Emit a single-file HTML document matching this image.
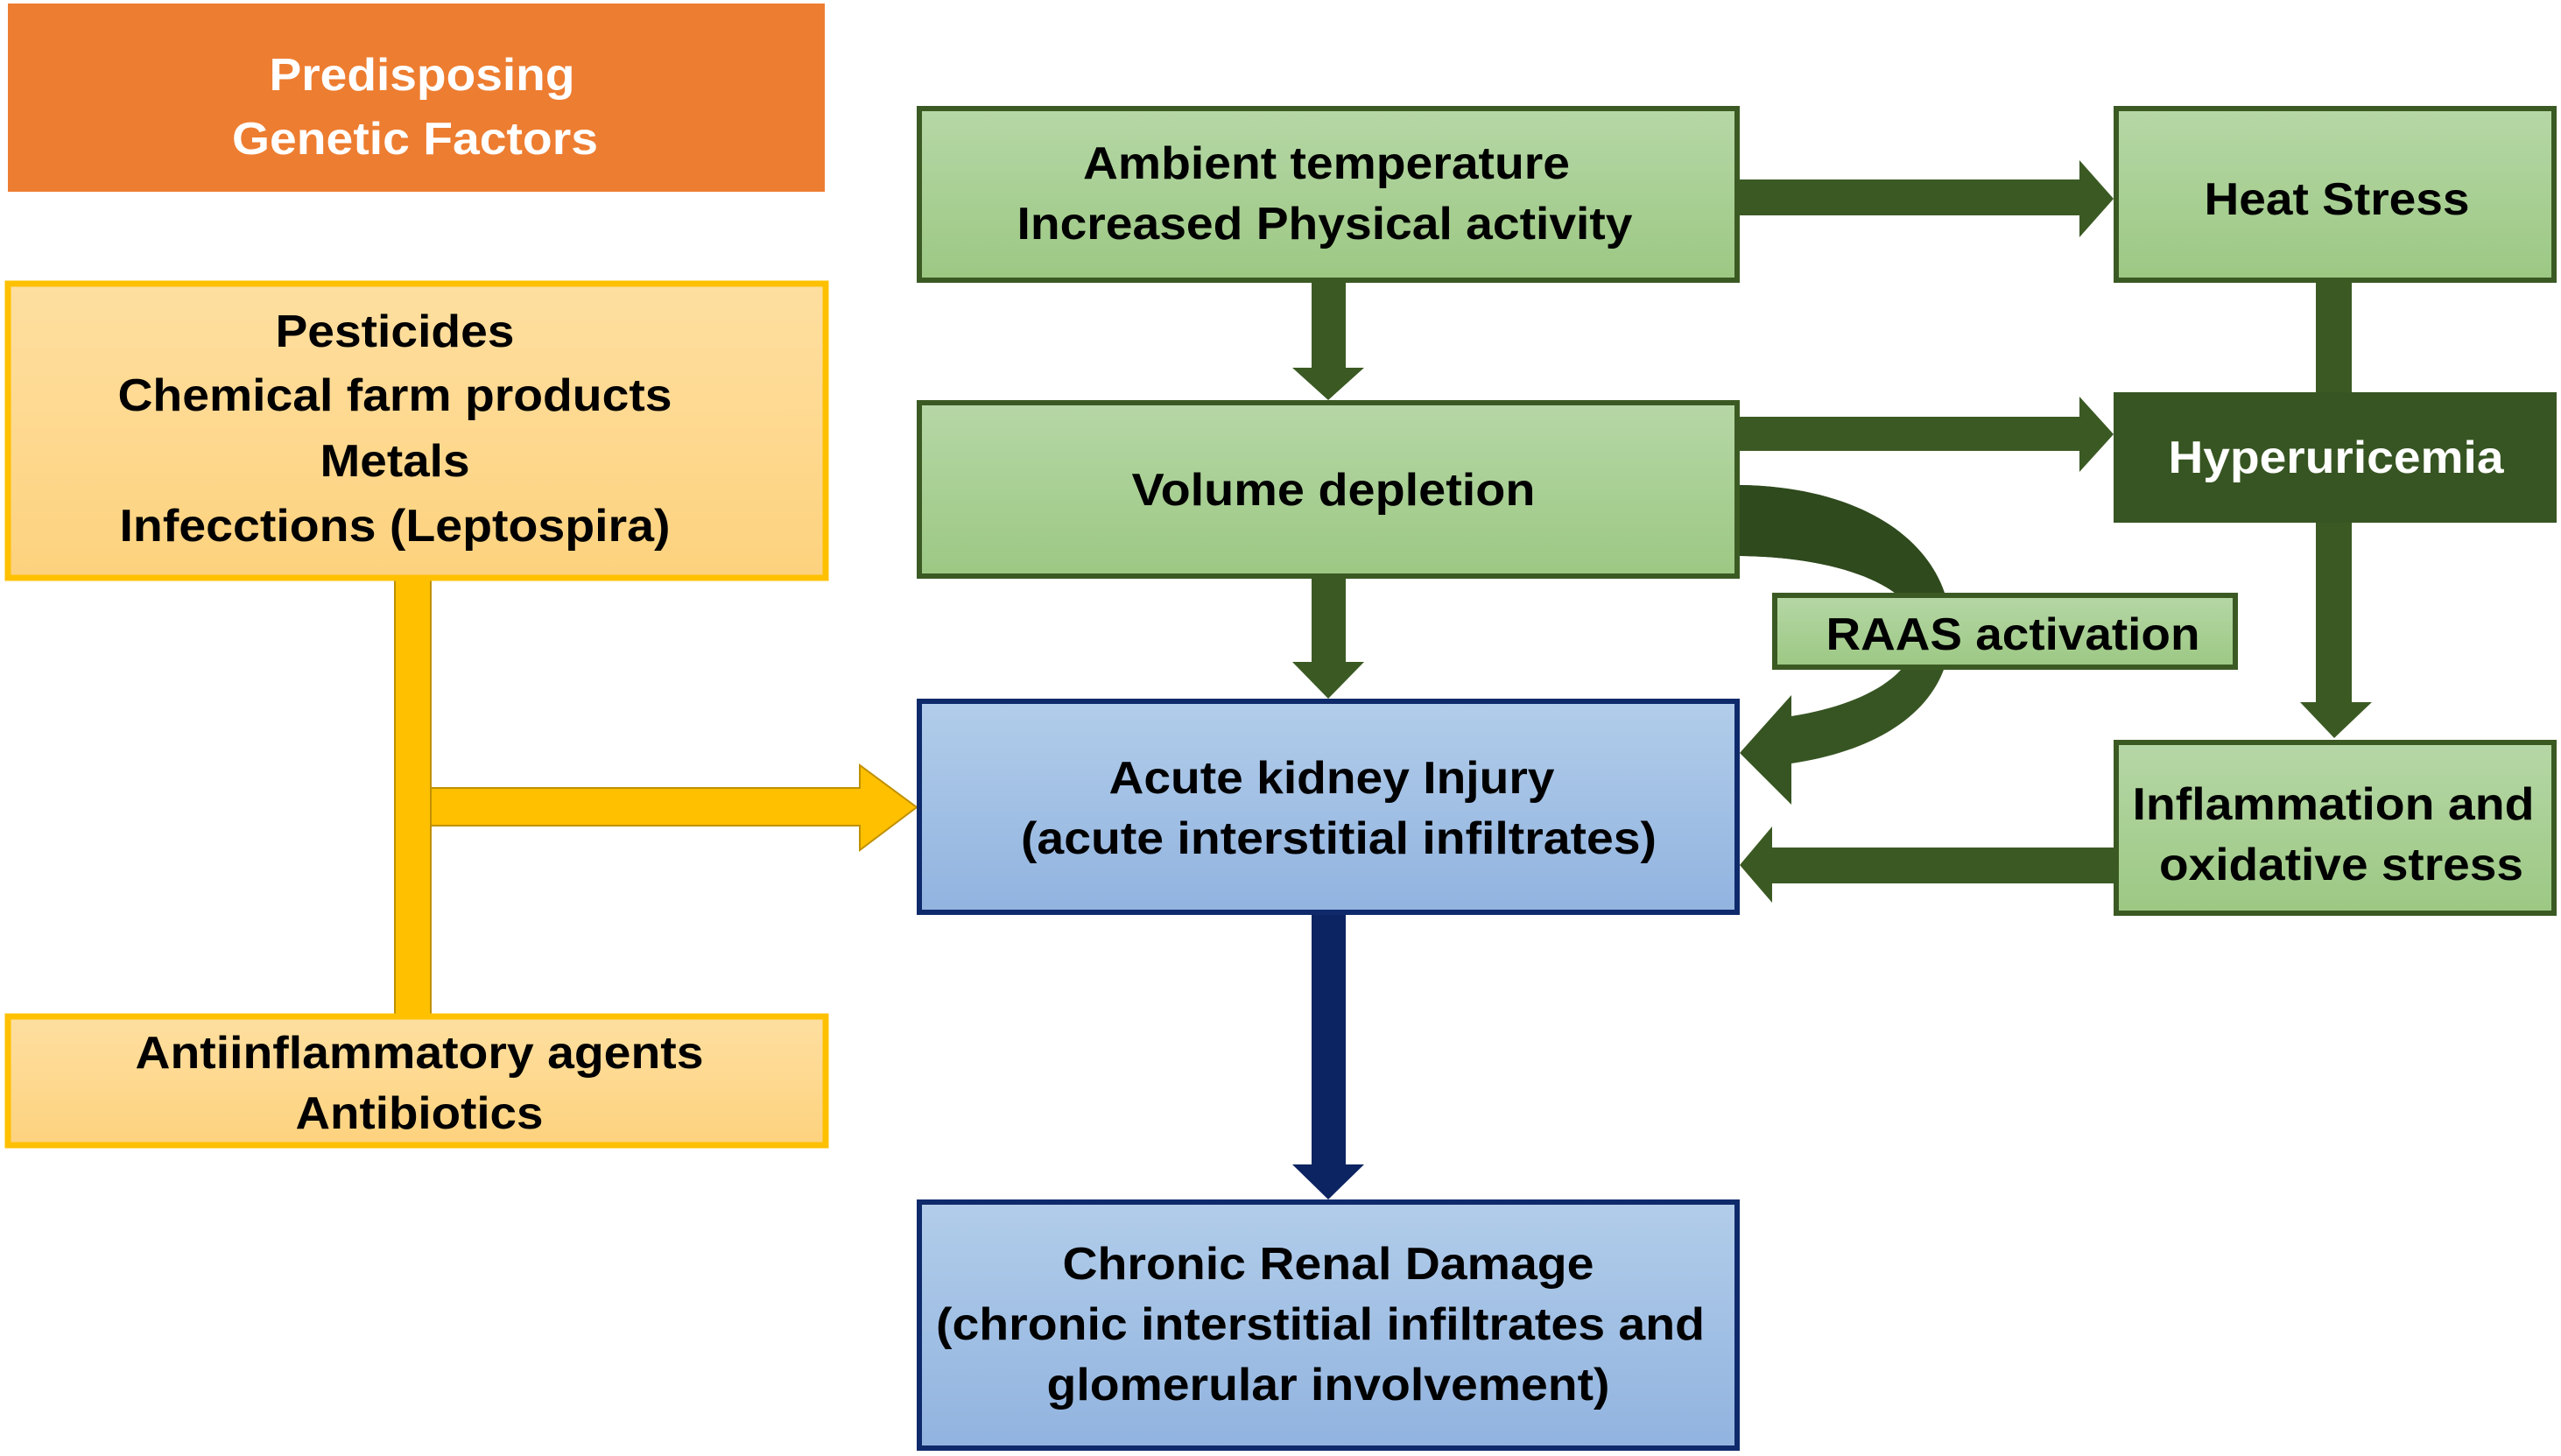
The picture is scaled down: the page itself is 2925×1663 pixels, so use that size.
<!DOCTYPE html>
<html><head><meta charset="utf-8"><style>
html,body{margin:0;padding:0;background:#fff;}
svg{display:block;}
text{font-family:"Liberation Sans",Arial,sans-serif;font-weight:bold;font-size:52px;fill:#000;}
</style></head><body>
<svg width="2925" height="1663" viewBox="0 0 2925 1663" xmlns="http://www.w3.org/2000/svg">
<defs>
<linearGradient id="gg" x1="0" y1="0" x2="0" y2="1"><stop offset="0" stop-color="#b6d7a6"/><stop offset="1" stop-color="#9cc883"/></linearGradient>
<linearGradient id="yg" x1="0" y1="0" x2="0" y2="1"><stop offset="0" stop-color="#fedfa0"/><stop offset="1" stop-color="#fdd27e"/></linearGradient>
<linearGradient id="bg" x1="0" y1="0" x2="0" y2="1"><stop offset="0" stop-color="#b2cdea"/><stop offset="1" stop-color="#91b3df"/></linearGradient>
</defs>

<!-- Orange -->
<rect x="9" y="4" width="933" height="215" fill="#ed7d31"/>
<text x="482" y="103" text-anchor="middle" fill="#fff" style="fill:#fff" textLength="349" lengthAdjust="spacingAndGlyphs">Predisposing</text>
<text x="474" y="176" text-anchor="middle" style="fill:#fff" textLength="418" lengthAdjust="spacingAndGlyphs">Genetic Factors</text>

<!-- Yellow connector -->
<rect x="451" y="660" width="41" height="500" fill="#ffc000" stroke="#bf9000" stroke-width="2"/>
<path d="M492,900 L982,900 L982,874 L1047,922 L982,971 L982,943 L492,943 Z" fill="#ffc000" stroke="#bf9000" stroke-width="2"/>

<!-- Yellow boxes -->
<rect x="9" y="324" width="934" height="336" fill="url(#yg)" stroke="#ffc000" stroke-width="7"/>
<text x="451" y="396" text-anchor="middle" textLength="273" lengthAdjust="spacingAndGlyphs">Pesticides</text>
<text x="451" y="469" text-anchor="middle" textLength="633" lengthAdjust="spacingAndGlyphs">Chemical farm products</text>
<text x="451" y="544" text-anchor="middle" textLength="171" lengthAdjust="spacingAndGlyphs">Metals</text>
<text x="451" y="618" text-anchor="middle" textLength="629" lengthAdjust="spacingAndGlyphs">Infecctions (Leptospira)</text>

<rect x="9" y="1161" width="934" height="147" fill="url(#yg)" stroke="#ffc000" stroke-width="7"/>
<text x="479" y="1220" text-anchor="middle" textLength="649" lengthAdjust="spacingAndGlyphs">Antiinflammatory agents</text>
<text x="479" y="1289" text-anchor="middle" textLength="283" lengthAdjust="spacingAndGlyphs">Antibiotics</text>

<!-- Green arrows -->
<g fill="#3b5a23">
<path d="M1987,205 L2375,205 L2375,183 L2414,227 L2375,271 L2375,246 L1987,246 Z"/>
<path d="M1498,323 L1537,323 L1537,420 L1558,420 L1517,457 L1476,420 L1498,420 Z"/>
<path d="M1987,476 L2375,476 L2375,453 L2414,496 L2375,539 L2375,515 L1987,515 Z"/>
<path d="M1498,661 L1537,661 L1537,756 L1558,756 L1517,798 L1476,756 L1498,756 Z"/>
<rect x="2645" y="323" width="41" height="130"/>
<path d="M2645,597 L2686,597 L2686,802 L2709,802 L2666,843 L2627,802 L2645,802 Z"/>
<path d="M2414,968 L2024,968 L2024,944 L1987,988 L2024,1031 L2024,1009 L2414,1009 Z"/>
</g>
<!-- Curved RAAS arrow -->
<path d="M1987,554 C2140,556 2228,630 2228,720 C2228,800 2160,855 2046,872 L2046,919 L1987,860 L2046,794 L2046,818 C2130,805 2190,770 2190,720 C2190,670 2100,636 1987,635 Z" fill="#375522"/>
<path d="M1987,554 C2140,556 2228,630 2228,720 L2190,720 C2190,670 2100,636 1987,635 Z" fill="#2f4a1d"/>

<!-- Navy arrow -->
<path d="M1498,1045 L1537,1045 L1537,1330 L1558,1330 L1517,1370 L1476,1330 L1498,1330 Z" fill="#0c2461"/>

<!-- Green boxes -->
<rect x="1050" y="124" width="934" height="196" fill="url(#gg)" stroke="#3b5a23" stroke-width="6"/>
<text x="1515" y="204" text-anchor="middle" textLength="556" lengthAdjust="spacingAndGlyphs">Ambient temperature</text>
<text x="1513" y="273" text-anchor="middle" textLength="703" lengthAdjust="spacingAndGlyphs">Increased Physical activity</text>

<rect x="2417" y="124" width="500" height="196" fill="url(#gg)" stroke="#3b5a23" stroke-width="6"/>
<text x="2669" y="245" text-anchor="middle" textLength="303" lengthAdjust="spacingAndGlyphs">Heat Stress</text>

<rect x="1050" y="460" width="934" height="198" fill="url(#gg)" stroke="#3b5a23" stroke-width="6"/>
<text x="1523" y="577" text-anchor="middle" textLength="461" lengthAdjust="spacingAndGlyphs">Volume depletion</text>

<rect x="2414" y="448" width="506" height="149" fill="#375522"/>
<text x="2668" y="540" text-anchor="middle" style="fill:#fff" textLength="383" lengthAdjust="spacingAndGlyphs">Hyperuricemia</text>

<rect x="2027" y="680" width="526" height="82" fill="url(#gg)" stroke="#3b5a23" stroke-width="6"/>
<text x="2299" y="742" text-anchor="middle" textLength="427" lengthAdjust="spacingAndGlyphs">RAAS activation</text>

<rect x="2417" y="848" width="500" height="195" fill="url(#gg)" stroke="#3b5a23" stroke-width="6"/>
<text x="2665" y="936" text-anchor="middle" textLength="459" lengthAdjust="spacingAndGlyphs">Inflammation and</text>
<text x="2674" y="1005" text-anchor="middle" textLength="416" lengthAdjust="spacingAndGlyphs">oxidative stress</text>

<!-- Blue boxes -->
<rect x="1050" y="801" width="934" height="241" fill="url(#bg)" stroke="#0f2a6b" stroke-width="6"/>
<text x="1521" y="906" text-anchor="middle" textLength="509" lengthAdjust="spacingAndGlyphs">Acute kidney Injury</text>
<text x="1529" y="975" text-anchor="middle" textLength="726" lengthAdjust="spacingAndGlyphs">(acute interstitial infiltrates)</text>

<rect x="1050" y="1373" width="934" height="281" fill="url(#bg)" stroke="#0f2a6b" stroke-width="6"/>
<text x="1517" y="1461" text-anchor="middle" textLength="607" lengthAdjust="spacingAndGlyphs">Chronic Renal Damage</text>
<text x="1508" y="1530" text-anchor="middle" textLength="878" lengthAdjust="spacingAndGlyphs">(chronic interstitial infiltrates and</text>
<text x="1517" y="1599" text-anchor="middle" textLength="643" lengthAdjust="spacingAndGlyphs">glomerular involvement)</text>
</svg>
</body></html>
